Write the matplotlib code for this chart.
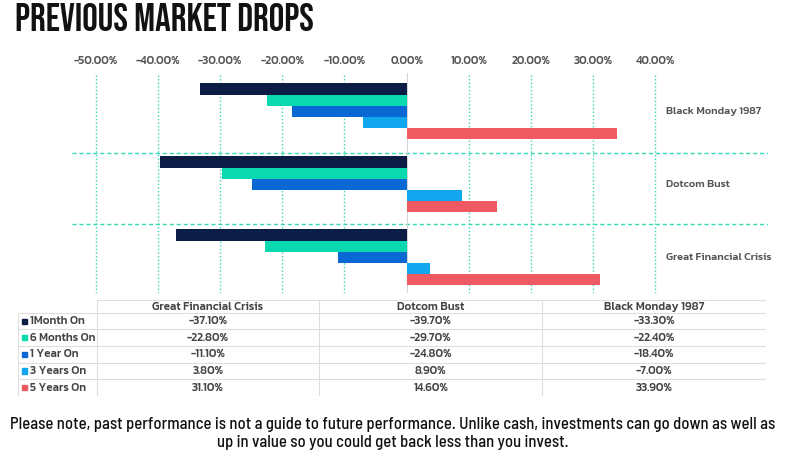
import numpy as np
import matplotlib
matplotlib.use("Agg")
import matplotlib.pyplot as plt
from matplotlib.patches import Rectangle

# data (table order)
events = ["Great Financial Crisis", "Dotcom Bust", "Black Monday 1987"]
periods = ["1Month On", "6 Months On", "1 Year On", "3 Years On", "5 Years On"]
month1 = [-37.1, -39.7, -33.3]
months6 = [-22.8, -29.7, -22.4]
year1 = [-11.1, -24.8, -18.4]
years3 = [3.8, 8.9, -7.0]
years5 = [31.1, 14.6, 33.9]
series = [month1, months6, year1, years3, years5]
colors = ["#0b1c45", "#0ad9b0", "#0a68d4", "#12a6ee", "#ef5a62"]
xticks = [-50, -40, -30, -20, -10, 0, 10, 20, 30, 40]

TEAL = "#38d8b4"
GREY_TXT = "#555555"
BODY = "Kanit"
FS = 8.4
W, H = 790, 459

fig = plt.figure(figsize=(7.9, 4.59), dpi=100)
fig.patch.set_facecolor("white")

# ---- chart
ax = fig.add_axes([72 / W, 1 - 293 / H, (768 - 72) / W, (293 - 73) / H])
y = np.arange(len(events))
h = 0.153
for i, (vals, c) in enumerate(zip(series, colors)):
    ax.barh(y + (2 - i) * h, vals, height=h, color=c, zorder=3)
ax.set_xlim(-53.8, 58.1)
ax.set_ylim(-0.489, 2.525)
for t in xticks:
    if t != 0:
        ax.axvline(t, color=TEAL, lw=1, ls=(0, (1, 1.6)), zorder=1)
ax.axvline(0, color="#d6d6d6", lw=0.8, zorder=2)
for s in [0.46, 1.425]:
    ax.axhline(s, color=TEAL, lw=1, ls=(0, (3, 2)), zorder=1)
ax.xaxis.tick_top()
ax.set_xticks(xticks)
ax.set_xticklabels([f"{t:.2f}%" for t in xticks], fontsize=FS,
                   color=GREY_TXT, fontweight="medium", family=BODY)
ax.tick_params(axis="x", length=0, pad=5)
ax.set_yticks([])
for sp in ax.spines.values():
    sp.set_visible(False)
for yi, name in zip(y, events):
    ax.text(41.7, yi, name, va="center", ha="left", fontsize=7.9,
            color=GREY_TXT, fontweight="medium", family=BODY)

# ---- table
tax = fig.add_axes([18 / W, 1 - 396 / H, (766 - 18) / W, (396 - 300) / H])
tax.set_xlim(0, 748)
tax.set_ylim(96, 0)
tax.axis("off")
cols = [0, 78.7, 301.3, 524, 748]
rows = [0, 13.3, 29.3, 46, 62.7, 79.3, 96]
LINE = "#dedede"
tax.plot([cols[1], cols[-1]], [0, 0], color=LINE, lw=0.8)
for r in rows[1:]:
    tax.plot([0, cols[-1]], [r, r], color=LINE, lw=0.8)
tax.plot([0, 0], [rows[1], rows[-1]], color=LINE, lw=0.8)
for cx in cols[1:]:
    tax.plot([cx, cx], [0, rows[-1]], color=LINE, lw=0.8)
for j, name in enumerate(events):
    tax.text((cols[j + 1] + cols[j + 2]) / 2, rows[0] + 6.9, name,
             ha="center", va="center", fontsize=FS, color="#444444",
             fontweight="medium", family=BODY)
for i, (lab, vals, c) in enumerate(zip(periods, series, colors)):
    yc = (rows[i + 1] + rows[i + 2]) / 2
    tax.add_patch(Rectangle((4, yc - 2.6), 5, 5.2, color=c))
    tax.text(12.5, yc, lab, ha="left", va="center", fontsize=FS,
             color="#444444", fontweight="medium", family=BODY)
    for j, v in enumerate(vals):
        tax.text((cols[j + 1] + cols[j + 2]) / 2, yc, f"{v:.2f}%",
                 ha="center", va="center", fontsize=FS, color="#444444",
                 fontweight="medium", family=BODY)

# ---- title and footer
fig.text(15 / W, 1 - 17 / H, "PREVIOUS MARKET DROPS", ha="left", va="center",
         fontsize=28, family="Bebas Neue", color="#111111")
note = ["Please note, past performance is not a guide to future performance. "
        "Unlike cash, investments can go down as well as",
        "up in value so you could get back less than you invest."]
for k, line in enumerate(note):
    fig.text(393 / W, 1 - (425 + 17 * k) / H, line, ha="center", va="center",
             fontsize=12, color="#111111", family="Barlow Semi Condensed",
             fontweight="medium")

fig.savefig("out.png", dpi=100)
